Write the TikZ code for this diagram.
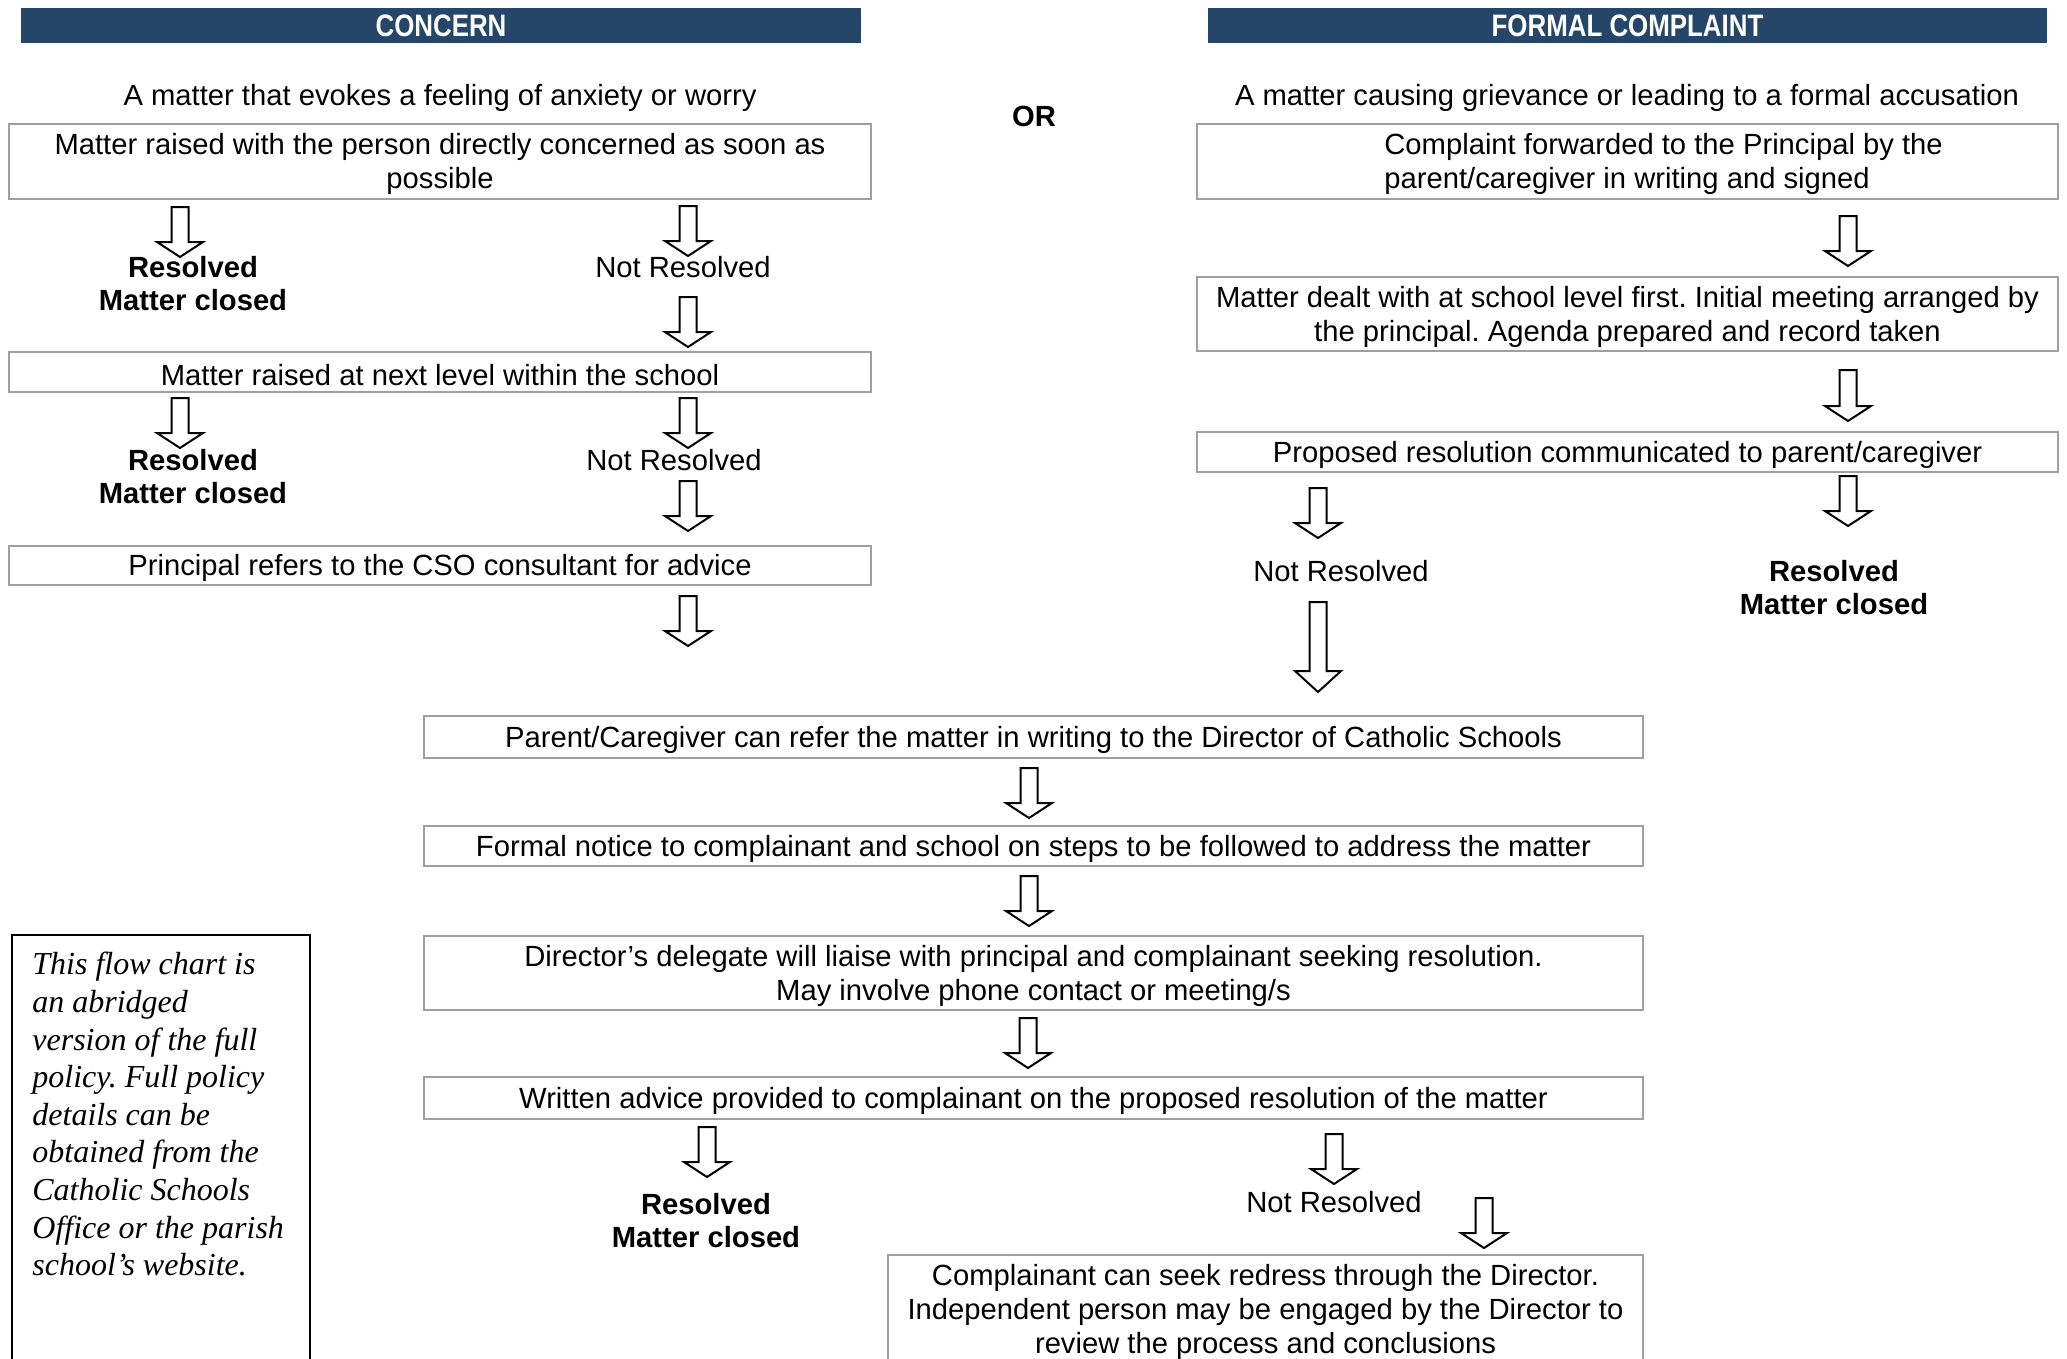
\documentclass[tikz,border=0pt]{standalone}
\usepackage{fontspec}
\setmainfont{Liberation Sans}
\newfontfamily\hdrfont[FakeStretch=0.835]{Liberation Sans}
\newfontfamily\notefont{Liberation Serif}
\definecolor{hdrblue}{HTML}{264669}
\frenchspacing
\tikzset{
  body/.style={font=\fontsize{14.6pt}{17pt}\selectfont},
  box/.style={draw=gray!75, line width=1pt, inner sep=0pt, fill=white},
  hdr/.style={fill=hdrblue, text=white, font=\hdrfont\bfseries\fontsize{15.5pt}{17pt}\selectfont, inner sep=0pt, minimum height=17.5pt},
  lbl/.style={body, align=center, inner sep=0pt},
  boxtext/.style={lbl, yshift=-1.4pt},
  reslbl/.style={align=center, inner sep=0pt, font=\bfseries\fontsize{14.6pt}{16.5pt}\selectfont},
  blockarrow/.style={draw=black, line width=1pt, fill=white},
  notebox/.style={draw=black, line width=1.2pt, inner sep=0pt},
  notetext/.style={inner sep=0pt, align=left, font=\notefont\itshape\fontsize{16pt}{18.8pt}\selectfont},
}
% block arrow: x, top y, tip y, head height (pixel units)
\newcommand\dnarrow[4]{%
  \draw[blockarrow] ({#1-8.5},#2) -- ({#1+8.5},#2) -- ({#1+8.5},{#3-#4}) -- ({#1+23},{#3-#4})
    -- (#1,#3) -- ({#1-23},{#3-#4}) -- ({#1-8.5},{#3-#4}) -- cycle;}
\begin{document}
\begin{tikzpicture}[x=0.5pt,y=-0.5pt]
\useasboundingbox (0,0) rectangle (2067,1359);
\clip (0,0) rectangle (2067,1359);

% headers
\node[hdr, minimum width=420pt] (hc) at (441,25.5) {CONCERN};
\node[hdr, minimum width=419.5pt] (hf) at (1627.5,25.5) {FORMAL COMPLAINT};
\node[lbl] (dc) at (440,97.5) {A matter that evokes a feeling of anxiety or worry};
\node[lbl] (df) at (1627,97.5) {A matter causing grievance or leading to a formal accusation};
\node[inner sep=0pt, font=\bfseries\fontsize{14.6pt}{17pt}\selectfont] (or) at (1034,116) {OR};

% concern column
\node[box, minimum width=431pt, minimum height=37.5pt] (l1) at (440,161.5) {};
\node[boxtext] (l1t) at (l1.center) {Matter raised with the person directly concerned as soon as\\possible};
\node[reslbl] (l1r) at (193,283.5) {Resolved\\Matter closed};
\node[lbl] (l1n) at (683,267) {Not Resolved};
\node[box, minimum width=431pt, minimum height=20pt] (l2) at (440,372) {};
\node[boxtext] (l2t) at (l2.center) {Matter raised at next level within the school};
\node[reslbl] (l2r) at (193,477) {Resolved\\Matter closed};
\node[lbl] (l2n) at (674,460) {Not Resolved};
\node[box, minimum width=431pt, minimum height=19.5pt] (l3) at (440,565.5) {};
\node[boxtext] (l3t) at (l3.center) {Principal refers to the CSO consultant for advice};

% formal complaint column
\node[box, minimum width=430.5pt, minimum height=37.5pt] (r1) at (1627.5,161.5) {};
\node[lbl, align=left, anchor=west, yshift=-1.4pt] (r1t) at (1384,161.5) {Complaint forwarded to the Principal by the\\parent/caregiver in writing and signed};
\node[box, minimum width=430.5pt, minimum height=37pt] (r2) at (1627.5,314) {};
\node[boxtext] (r2t) at (r2.center) {Matter dealt with at school level first. Initial meeting arranged by\\the principal. Agenda prepared and record taken};
\node[box, minimum width=430.5pt, minimum height=20pt] (r3) at (1627.5,452) {};
\node[boxtext] (r3t) at (r3.center) {Proposed resolution communicated to parent/caregiver};
\node[lbl] (r3n) at (1341,571) {Not Resolved};
\node[reslbl] (r3r) at (1834,588) {Resolved\\Matter closed};

% centre column
\node[box, minimum width=609.5pt, minimum height=21pt] (c1) at (1033.5,737) {};
\node[boxtext] (c1t) at (c1.center) {Parent/Caregiver can refer the matter in writing to the Director of Catholic Schools};
\node[box, minimum width=609.5pt, minimum height=20pt] (c2) at (1033.5,846) {};
\node[boxtext] (c2t) at (c2.center) {Formal notice to complainant and school on steps to be followed to address the matter};
\node[box, minimum width=609.5pt, minimum height=37pt] (c3) at (1033.5,973) {};
\node[boxtext] (c3t) at (c3.center) {Director’s delegate will liaise with principal and complainant seeking resolution.\\May involve phone contact or meeting/s};
\node[box, minimum width=609.5pt, minimum height=21pt] (c4) at (1033.5,1098) {};
\node[boxtext] (c4t) at (c4.center) {Written advice provided to complainant on the proposed resolution of the matter};
\node[reslbl] (c4r) at (706,1220.5) {Resolved\\Matter closed};
\node[lbl] (c4n) at (1334,1202) {Not Resolved};
\node[box, minimum width=377.5pt, minimum height=54pt] (c5) at (1265.5,1309) {};
\node[boxtext] (c5t) at (c5.center) {Complainant can seek redress through the Director.\\Independent person may be engaged by the Director to\\review the process and conclusions};

% note
\node[notebox, minimum width=149pt, minimum height=230pt, anchor=north west] (note) at (11,934) {};
\node[notetext, anchor=north west] (notet) at (32,952) {This flow chart is\\an abridged\\version of the full\\policy. Full policy\\details can be\\obtained from the\\Catholic Schools\\Office or the parish\\school’s website.};

% block arrows
\dnarrow{180}{207}{257}{15}
\dnarrow{688}{206}{256}{15}
\dnarrow{688}{297}{347}{15}
\dnarrow{180}{398}{448}{15}
\dnarrow{688}{398}{448}{15}
\dnarrow{688}{481}{531}{15}
\dnarrow{688}{596}{646}{15}
\dnarrow{1848}{216}{266}{15}
\dnarrow{1848}{370}{421}{15}
\dnarrow{1318}{488}{538}{15}
\dnarrow{1848}{476}{526}{15}
\dnarrow{1318}{602}{692}{21}
\dnarrow{1029}{768}{818}{15}
\dnarrow{1029}{876}{926}{15}
\dnarrow{1028}{1018}{1068}{15}
\dnarrow{707}{1127}{1177}{15}
\dnarrow{1334}{1134}{1184}{15}
\dnarrow{1484}{1198}{1248}{15}
\end{tikzpicture}
\end{document}
